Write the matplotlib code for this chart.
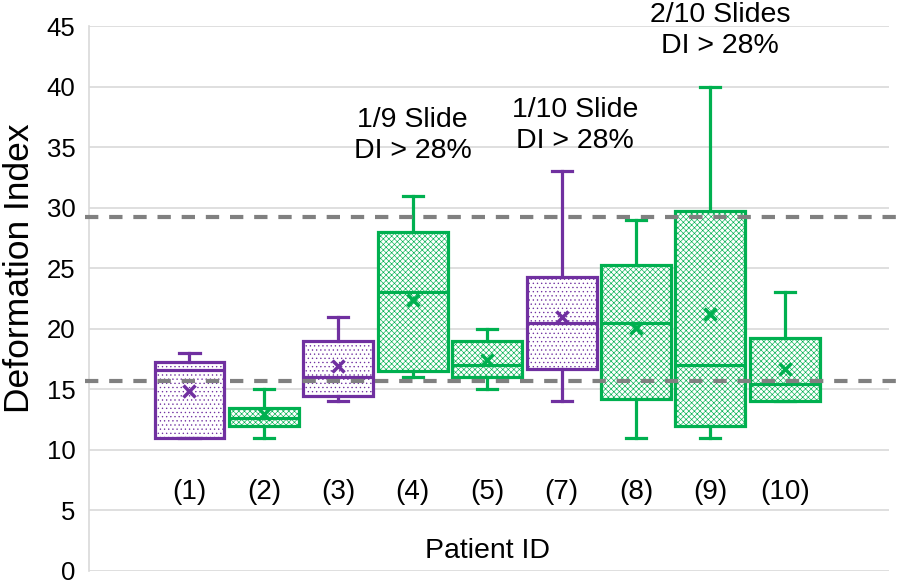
import matplotlib.pyplot as plt

plt.rcParams['font.family'] = ['Liberation Sans', 'DejaVu Sans']
plt.rcParams['hatch.linewidth'] = 0.45

# Patient box statistics (Deformation Index)
patients = ["(1)", "(2)", "(3)", "(4)", "(5)", "(7)", "(8)", "(9)", "(10)"]
whis_lo = [11.0, 11.0, 14.0, 16.0, 15.0, 14.0, 11.0, 11.0, 14.0]
q1 = [11.0, 12.0, 14.45, 16.55, 16.0, 16.7, 14.2, 12.0, 14.0]
median = [16.6, 12.6, 16.05, 23.05, 17.05, 20.5, 20.5, 17.0, 15.45]
q3 = [17.25, 13.45, 18.95, 28.0, 18.95, 24.25, 25.3, 29.7, 19.25]
whis_hi = [18.0, 15.0, 21.0, 31.0, 20.0, 33.0, 29.0, 40.0, 23.0]
mean = [14.85, 13.0, 16.9, 22.35, 17.4, 21.0, 20.1, 21.2, 16.65]
group = ["p", "g", "p", "g", "g", "p", "g", "g", "g"]

thresholds = [29.2, 15.65]

notes = ["1/9 Slide\nDI > 28%", "1/10 Slide\nDI > 28%", "2/10 Slides\nDI > 28%"]
note_x = [4.0, 6.18, 8.13]
note_y = [35.95, 36.8, 44.6]

colors = {"p": "#7030A0", "g": "#00B050"}
hatches = {"p": "....", "g": "xxxxxx"}

fig = plt.figure(figsize=(9, 5.83), dpi=100)
ax = fig.add_axes([0.0994, 0.0206, 0.8884, 0.9348])

pos = list(range(1, len(patients) + 1))
stats = []
for i in range(len(patients)):
    stats.append(dict(med=median[i], q1=q1[i], q3=q3[i], whislo=whis_lo[i],
                      whishi=whis_hi[i], mean=mean[i], fliers=[]))

bp = ax.bxp(stats, positions=pos, widths=0.94, patch_artist=True,
            showmeans=True, showfliers=False, capwidths=0.27, zorder=3)

for i, g in enumerate(group):
    c = colors[g]
    box = bp['boxes'][i]
    box.set_facecolor('white')
    box.set_edgecolor(c)
    box.set_hatch(hatches[g])
    box.set_linewidth(2.3)
    bp['medians'][i].set_color(c)
    bp['medians'][i].set_linewidth(2.3)
    for w in bp['whiskers'][2 * i:2 * i + 2]:
        w.set_color(c)
        w.set_linewidth(2.3)
    for cp in bp['caps'][2 * i:2 * i + 2]:
        cp.set_color(c)
        cp.set_linewidth(2.3)
    m = bp['means'][i]
    m.set_marker('x')
    m.set_markeredgecolor(c)
    m.set_markersize(8)
    m.set_markeredgewidth(2.5)

# threshold dashed lines run past the plot area
for t in thresholds:
    ax.plot([-0.005, 1.02], [t, t], transform=ax.get_yaxis_transform(),
            color='#808080', lw=3, ls=(0, (3.2, 2.6)), clip_on=False, zorder=4)

for txt, x, y in zip(notes, note_x, note_y):
    ax.text(x, y, txt, ha='center', va='center', fontsize=20.5,
            linespacing=1.25, zorder=5)

for x, lab in zip(pos, patients):
    ax.text(x, 6.5, lab, ha='center', va='center', fontsize=20)
ax.text(5.0, 1.65, "Patient ID", ha='center', va='center', fontsize=20.5)

ax.set_xlim(-0.344, 10.40)
ax.set_ylim(0, 45)
ax.set_yticks(range(0, 46, 5))
ax.tick_params(axis='y', length=0, labelsize=18.5, pad=10)
ax.set_xticks([])
ax.grid(axis='y', color='#D9D9D9', lw=1.2, zorder=0)
ax.set_axisbelow(True)
for s in ['top', 'right', 'bottom']:
    ax.spines[s].set_visible(False)
ax.spines['left'].set_color('#D9D9D9')
ax.spines['left'].set_linewidth(1.2)

fig.text(0.022, 0.54, "Deformation Index", rotation=90, ha='center',
         va='center', fontsize=25.5)

fig.savefig("out.png", dpi=100)
